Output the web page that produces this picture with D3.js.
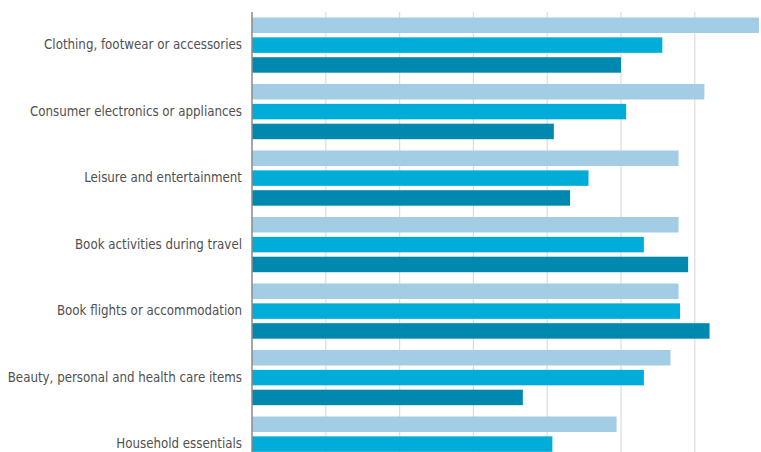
<!DOCTYPE html>
<html>
<head>
<meta charset="utf-8">
<script src="https://cdn.jsdelivr.net/npm/d3@7"></script>
<style>
  html, body { margin: 0; padding: 0; background: #ffffff; }
  svg { display: block; }
  .label { font-family: "DejaVu Sans Condensed", "DejaVu Sans", sans-serif; font-size: 13.2px; fill: #505050; }
</style>
</head>
<body>
<svg id="chart" width="761" height="452"></svg>
<script>
// Shopping categories, top to bottom
const categories = [
  "Clothing, footwear or accessories",
  "Consumer electronics or appliances",
  "Leisure and entertainment",
  "Book activities during travel",
  "Book flights or accommodation",
  "Beauty, personal and health care items",
  "Household essentials"
];

// Three series, one value per category
const seriesNames = ["s1", "s2", "s3"];
const series1 = [68.7, 61.3, 57.8, 57.8, 57.8, 56.7, 49.4];
const series2 = [55.6, 50.7, 45.6, 53.1, 58.0, 53.1, 40.7];
const series3 = [50.0, 40.9, 43.1, 59.1, 62.0, 36.7, 33.0];
const seriesColors = ["#a3cde5", "#00acd8", "#0088ae"];

// Gridline positions
const gridTicks = [0, 10, 20, 30, 40, 50, 60];

const rows = categories.map((c, i) => ({
  category: c,
  values: [series1[i], series2[i], series3[i]]
}));

const svg = d3.select("#chart");
const width = 761, height = 452;
const left = 252;

const x = d3.scaleLinear().domain([0, 10]).range([left, left + 73.8]);

const y = d3.scaleBand()
  .domain(categories)
  .range([17.5, 17.5 + 66.5 * (categories.length - 0.17)])
  .paddingInner(0.17)
  .paddingOuter(0);

const yInner = d3.scaleBand()
  .domain(seriesNames)
  .range([0, y.bandwidth()])
  .paddingInner(0.22);

// Vertical gridlines
svg.append("g")
  .selectAll("line")
  .data(gridTicks.slice(1))
  .join("line")
  .attr("x1", d => x(d)).attr("x2", d => x(d))
  .attr("y1", 12).attr("y2", height)
  .attr("stroke", "#dcdcdc")
  .attr("stroke-width", 1.2);

// Bars
const groups = svg.append("g")
  .selectAll("g")
  .data(rows)
  .join("g")
  .attr("transform", d => `translate(0,${y(d.category)})`);

groups.selectAll("rect")
  .data(d => d.values.map((v, j) => ({ key: seriesNames[j], value: v, j })))
  .join("rect")
  .attr("x", x(0))
  .attr("y", d => yInner(d.key))
  .attr("width", d => x(d.value) - x(0))
  .attr("height", yInner.bandwidth())
  .attr("fill", d => seriesColors[d.j]);

// Category labels
const axis = d3.axisLeft(y).tickSize(0).tickPadding(10);
const gAxis = svg.append("g")
  .attr("transform", `translate(${left},0)`)
  .call(axis);
gAxis.select(".domain").remove();
gAxis.selectAll("text").attr("class", "label");

// Baseline
svg.append("line")
  .attr("x1", left).attr("x2", left)
  .attr("y1", 12).attr("y2", height)
  .attr("stroke", "#8a8a8a")
  .attr("stroke-width", 1.5);
</script>
</body>
</html>
